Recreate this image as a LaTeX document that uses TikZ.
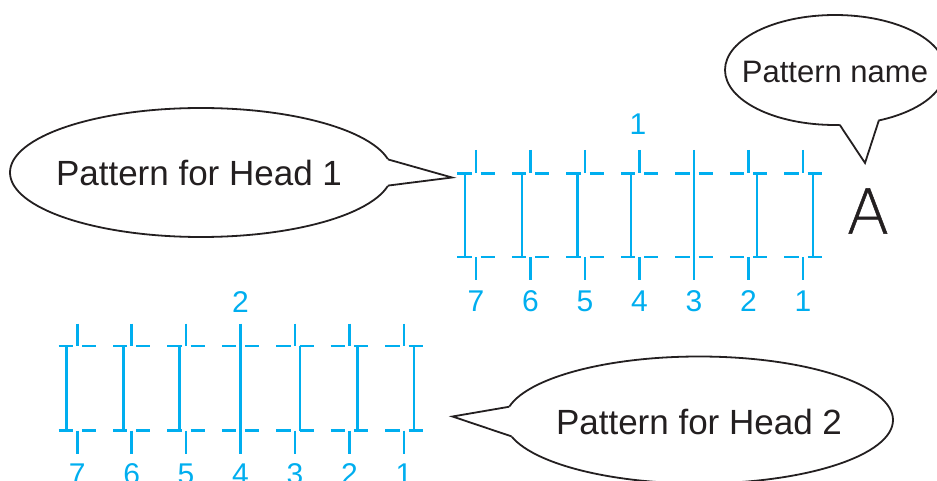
\documentclass[tikz,border=0pt]{standalone}
\usepackage{fontspec}
\setmainfont{Liberation Sans}
\IfFontExistsTF{DejaVu Sans ExtraLight}
  {\newfontfamily\thinA[FakeBold=0.8]{DejaVu Sans ExtraLight}}
  {\newfontfamily\thinA{Liberation Sans}}
\usetikzlibrary{shapes.geometric,calc}
\definecolor{pcyan}{RGB}{0,174,239}
\definecolor{ink}{RGB}{35,31,32}
\begin{document}
\begin{tikzpicture}[x=1pt,y=-1pt,
  pat/.style={draw=pcyan,line width=2.6pt},
  num/.style={text=pcyan,font=\fontsize{30}{30}\selectfont,inner sep=0pt},
  bubble/.style={ellipse,draw=ink,line width=1.8pt,fill=white,inner sep=0pt,outer sep=0pt},
  btext/.style={text=ink,inner sep=0pt,font=\fontsize{35}{36}\selectfont},
  tail/.style={draw=ink,line width=1.8pt,line join=miter},
  cover/.style={fill=white}]
\useasboundingbox (0,0) rectangle (937,481);
\clip (0,0) rectangle (937,481);

% ---- pattern for head 1 ----
\foreach \t/\o/\n in {476/-11/7,530.5/-8.5/6,585/-7.3/5,639.5/-8.5/4,694/0/3,748.5/8.3/2,803/10/1} {
  \draw[pat] (\t,150) -- (\t,173.3) (\t,257) -- (\t,280);
  \draw[pat] (\t-18.7,173.3) -- (\t-4.5,173.3) (\t+4.5,173.3) -- (\t+18.7,173.3);
  \draw[pat] (\t-18.7,257) -- (\t-4.5,257) (\t+4.5,257) -- (\t+18.7,257);
  \draw[pat] (\t+\o,173.3) -- (\t+\o,257);
  \node[num] at (\t,301) {\n};
}
\node[num] (lab1) at (638,124) {1};

% ---- pattern for head 2 ----
\foreach \t/\o/\n in {77.3/-10.7/7,131.7/-8.3/6,186/-6.7/5,240.5/0/4,295/5/3,349.4/8/2,404/10/1} {
  \draw[pat] (\t,323.5) -- (\t,346) (\t,430.7) -- (\t,453.5);
  \draw[pat] (\t-18.7,346) -- (\t-4.5,346) (\t+4.5,346) -- (\t+18.7,346);
  \draw[pat] (\t-18.7,430.7) -- (\t-4.5,430.7) (\t+4.5,430.7) -- (\t+18.7,430.7);
  \draw[pat] (\t+\o,346) -- (\t+\o,430.7);
  \node[num] at (\t,474.5) {\n};
}
\node[num] (lab2) at (240.5,302) {2};

% ---- bubble: Pattern for Head 1 ----
\node[bubble,minimum width=382pt,minimum height=129pt] (h1) at (201,172.5) {};
\coordinate (t1) at (452,177.5);
\fill[cover] (h1.4) -- (t1) -- (h1.-4) -- ($(h1.-4)!6pt!(h1.center)$) -- ($(h1.4)!6pt!(h1.center)$) -- cycle;
\draw[tail] (h1.4) -- (t1) -- (h1.-4);
\node[btext] (h1t) at (199,173.3) {Pattern for Head 1};

% ---- bubble: Pattern for Head 2 ----
\node[bubble,minimum width=388pt,minimum height=127pt] (h2) at (699,420) {};
\coordinate (t2) at (452.5,416.5);
\fill[cover] (h2.176) -- (t2) -- (h2.185) -- ($(h2.185)!6pt!(h2.center)$) -- ($(h2.176)!6pt!(h2.center)$) -- cycle;
\draw[tail] (h2.176) -- (t2) -- (h2.185);
\node[btext] (h2t) at (699,421.7) {Pattern for Head 2};

% ---- bubble: Pattern name ----
\node[bubble,minimum width=220pt,minimum height=110pt] (pn) at (835,70) {};
\coordinate (t3) at (865,163);
\fill[cover] (pn.-85) -- (t3) -- (pn.-49) -- ($(pn.-49)!6pt!(pn.center)$) -- ($(pn.-85)!6pt!(pn.center)$) -- cycle;
\draw[tail] (pn.-85) -- (t3) -- (pn.-49);
\node[btext,font=\fontsize{31}{32}\selectfont] (pnt) at (835,71.7) {Pattern name};

% ---- pattern letter ----
\node[text=ink,inner sep=0pt,font=\thinA\fontsize{62}{62}\selectfont] (A) at (868,211) {A};
\end{tikzpicture}
\end{document}
